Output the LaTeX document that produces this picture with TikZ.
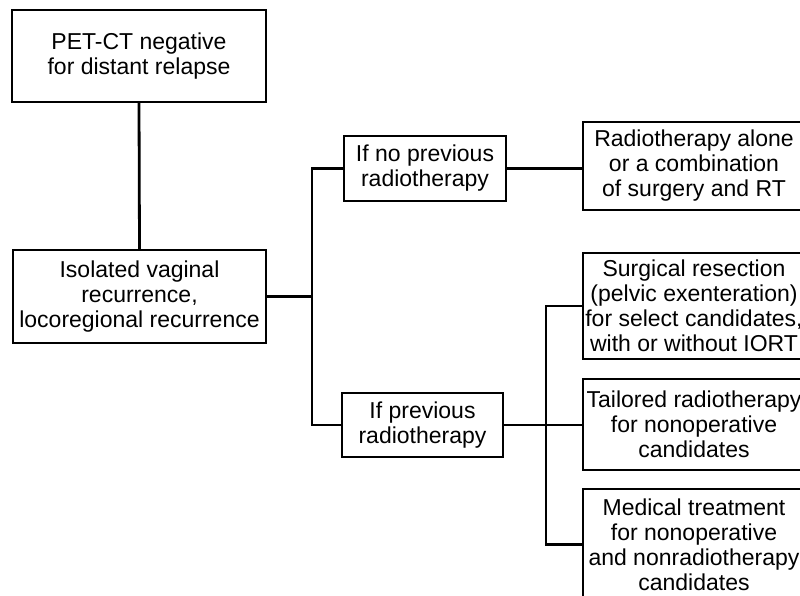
\documentclass[tikz,border=0pt]{standalone}
\usepackage{fontspec}
\setmainfont{Liberation Sans}
\begin{document}
\begin{tikzpicture}[x=1pt,y=-1pt,
  box/.style={draw,line width=2pt,inner sep=0pt,align=center,
    font=\fontsize{23}{25}\selectfont},
  conn/.style={line width=2.8pt}]
\useasboundingbox (0,0) rectangle (800,596);
\clip (0,0) rectangle (800,596);
\node[box,minimum width=254pt,minimum height=92pt] (pet) at (139,56) {PET-CT negative\\for distant relapse};
\node[box,minimum width=253pt,minimum height=93pt] (iso) at (139.5,296.5) {Isolated vaginal\\recurrence,\\locoregional recurrence};
\node[box,minimum width=162pt,minimum height=65pt] (nop) at (425,168.5) {If no previous\\radiotherapy};
\node[box,minimum width=161pt,minimum height=64pt] (prev) at (422.5,425) {If previous\\radiotherapy};
\node[box,minimum width=222pt,minimum height=88pt] (rad) at (694,166) {Radiotherapy alone\\or a combination\\of surgery and RT};
\node[box,minimum width=222pt,minimum height=106pt] (surg) at (694,306) {Surgical resection\\(pelvic exenteration)\\for select candidates,\\with or without IORT};
\node[box,minimum width=222pt,minimum height=91pt] (tail) at (694,424.5) {Tailored radiotherapy\\for nonoperative\\candidates};
\node[box,minimum width=222pt,minimum height=111pt] (med) at (694,544.5) {Medical treatment\\for nonoperative\\and nonradiotherapy\\candidates};
\coordinate (j1) at (312,296.5);
\coordinate (j2) at (546,425);
\draw[conn] (pet.south) -- (iso.north);
\draw[conn] (iso.east) -- (j1);
\draw[conn] (nop.west) -| (j1) |- (prev.west);
\draw[conn] (nop.east) -- (nop.east -| rad.west);
\draw[conn] (prev.east) -- (prev.east -| tail.west);
\draw[conn] (surg.west) -| (j2) |- (med.west);
\end{tikzpicture}
\end{document}
